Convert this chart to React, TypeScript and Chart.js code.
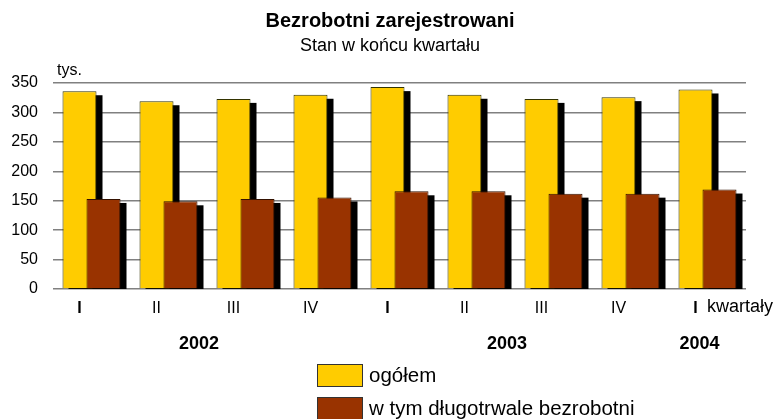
import React, { useEffect, useRef } from 'react';
import { Chart, registerables } from 'chart.js';

Chart.register(...registerables);

// ---- data ----
const quarterLabels = ['I', 'II', 'III', 'IV', 'I', 'II', 'III', 'IV', 'I'];
const yearStartFlags = [true, false, false, false, true, false, false, false, true];
const yearLabels = ['2002', '2003', '2004'];
const yearQuarterIndexes = [[0, 1, 2, 3], [4, 5, 6, 7], [8]];
const totalUnemployed = [336, 319, 323, 330, 343, 330, 323, 326, 339];
const longTermUnemployed = [153, 149, 153, 155.5, 166, 166, 162, 162, 169];
const seriesNames = ['ogółem', 'w tym długotrwale bezrobotni'];
const seriesColors = ['#FFCC00', '#993300'];
const titleText = 'Bezrobotni zarejestrowani';
const subtitleText = 'Stan w końcu kwartału';
const unitText = 'tys.';
const xAxisText = 'kwartały';
const yMin = 0;
const yMax = 350;
const yStep = 50;

const FONT = '"Liberation Sans", Arial, sans-serif';

function drawShadows(chart: any, meta: any) {
  const { ctx, chartArea } = chart;
  ctx.save();
  ctx.beginPath();
  ctx.rect(chartArea.left, chartArea.top, chartArea.right - chartArea.left, chartArea.bottom - chartArea.top);
  ctx.clip();
  ctx.fillStyle = '#000000';
  meta.data.forEach((el: any) => {
    const p = el.getProps(['x', 'y', 'base', 'width'], true);
    if (p.y == null || isNaN(p.y)) return;
    ctx.fillRect(p.x - p.width / 2 + 6, p.y + 4, p.width, p.base - p.y);
  });
  ctx.restore();
}

// Draws black drop shadows under the bars and keeps the second series in front of the first.
const shadowPlugin = {
  id: 'barShadow',
  beforeDatasetDraw(chart: any, args: any) {
    if (args.index === 1) return false; // drawn later, on top
    drawShadows(chart, args.meta);
    return true;
  },
  afterDatasetsDraw(chart: any) {
    const meta = chart.getDatasetMeta(1);
    drawShadows(chart, meta);
    const { ctx, chartArea } = chart;
    ctx.save();
    ctx.beginPath();
    ctx.rect(chartArea.left, chartArea.top, chartArea.right - chartArea.left, chartArea.bottom - chartArea.top);
    ctx.clip();
    meta.data.forEach((el: any) => el.draw(ctx, chartArea));
    ctx.restore();
  },
};

const textPlugin = {
  id: 'chartTexts',
  afterDraw(chart: any) {
    const { ctx } = chart;
    const yellowMeta = chart.getDatasetMeta(0);
    ctx.save();
    ctx.fillStyle = '#000000';

    // title
    ctx.textAlign = 'center';
    ctx.textBaseline = 'alphabetic';
    ctx.font = `bold 20px ${FONT}`;
    ctx.fillText(titleText, 390, 27);
    ctx.font = `18px ${FONT}`;
    ctx.fillText(subtitleText, 390, 51);

    // unit
    ctx.textAlign = 'left';
    ctx.font = `16px ${FONT}`;
    ctx.fillText(unitText, 57, 75);

    // quarter labels
    ctx.textAlign = 'center';
    quarterLabels.forEach((lab, i) => {
      const el = yellowMeta.data[i];
      ctx.font = `${yearStartFlags[i] ? 'bold ' : ''}16px ${FONT}`;
      ctx.fillText(lab, el.x, 313);
    });
    ctx.textAlign = 'left';
    ctx.font = `18px ${FONT}`;
    ctx.fillText(xAxisText, 707, 312);

    // years
    ctx.textAlign = 'center';
    ctx.font = `bold 18px ${FONT}`;
    yearLabels.forEach((yl, k) => {
      const idx = yearQuarterIndexes[k];
      const avg = idx.reduce((s, i) => s + yellowMeta.data[i].x, 0) / idx.length;
      ctx.fillText(yl, avg + 4, 349);
    });

    // legend
    const boxes = [364, 397];
    seriesNames.forEach((name, i) => {
      ctx.fillStyle = seriesColors[i];
      ctx.fillRect(317, boxes[i], 46, 23);
      ctx.strokeStyle = '#333333';
      ctx.lineWidth = 1;
      ctx.strokeRect(317.5, boxes[i] + 0.5, 45, 22);
      ctx.fillStyle = '#000000';
      ctx.textAlign = 'left';
      ctx.textBaseline = 'middle';
      ctx.font = `20.5px ${FONT}`;
      ctx.fillText(name, 369, boxes[i] + 12);
    });
    ctx.restore();
  },
};

export default function App() {
  const canvasRef = useRef<HTMLCanvasElement | null>(null);

  useEffect(() => {
    if (!canvasRef.current) return;
    const catPct = 48 / 77;
    const barPct = 34 / 24;
    const chart = new Chart(canvasRef.current, {
      type: 'bar',
      data: {
        labels: quarterLabels,
        datasets: [
          {
            label: seriesNames[0],
            data: totalUnemployed,
            backgroundColor: seriesColors[0],
            borderColor: '#333300',
            borderWidth: 1,
            categoryPercentage: catPct,
            barPercentage: barPct,
          },
          {
            label: seriesNames[1],
            data: longTermUnemployed,
            backgroundColor: seriesColors[1],
            borderColor: '#331100',
            borderWidth: 1,
            categoryPercentage: catPct,
            barPercentage: barPct,
          },
        ],
      },
      options: {
        animation: false,
        responsive: false,
        devicePixelRatio: 1,
        layout: { padding: { top: 83, right: 30, bottom: 0, left: 0 }, autoPadding: false },
        plugins: {
          legend: { display: false },
          title: { display: false },
          tooltip: { enabled: false },
        },
        scales: {
          x: {
            type: 'category',
            offset: true,
            grid: { display: false },
            border: { display: false },
            ticks: { display: false },
            afterFit: (s: any) => { s.height = 130; },
          },
          y: {
            min: yMin,
            max: yMax,
            ticks: {
              stepSize: yStep,
              color: '#000000',
              padding: 15,
              font: { family: FONT, size: 16 },
            },
            grid: { color: '#808080', lineWidth: 1.5, drawTicks: false },
            border: { display: false },
            afterFit: (s: any) => { s.width = 53; },
          },
        },
      } as any,
      plugins: [shadowPlugin, textPlugin],
    });
    return () => chart.destroy();
  }, []);

  return (
    <div style={{ position: 'absolute', left: 0, top: 0, width: 776, height: 419, background: '#ffffff' }}>
      <canvas ref={canvasRef} width={776} height={419} style={{ display: 'block' }} />
    </div>
  );
}
